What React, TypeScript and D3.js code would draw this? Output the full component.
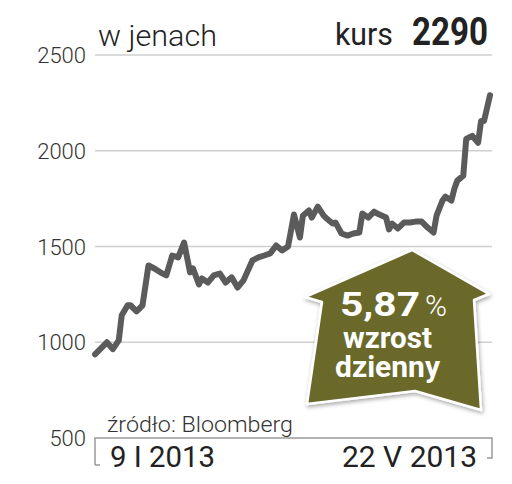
import React from "react";
import * as d3 from "d3";

const dates: string[] = [
  "2013-01-09","2013-01-12","2013-01-13","2013-01-15","2013-01-17","2013-01-18","2013-01-20","2013-01-21",
  "2013-01-23","2013-01-25","2013-01-27","2013-01-29","2013-01-31","2013-02-02","2013-02-04","2013-02-06",
  "2013-02-08","2013-02-10","2013-02-11","2013-02-13","2013-02-14","2013-02-16","2013-02-18","2013-02-20",
  "2013-02-22","2013-02-24","2013-02-26","2013-02-28","2013-03-03","2013-03-05","2013-03-07","2013-03-09",
  "2013-03-11","2013-03-13","2013-03-15","2013-03-17","2013-03-19","2013-03-20","2013-03-22","2013-03-23",
  "2013-03-25","2013-03-27","2013-03-28","2013-03-30","2013-03-31","2013-04-02","2013-04-04","2013-04-06",
  "2013-04-08","2013-04-09","2013-04-11","2013-04-13","2013-04-14","2013-04-17","2013-04-18","2013-04-19",
  "2013-04-21","2013-04-23","2013-04-25","2013-04-27","2013-04-29","2013-05-01","2013-05-03","2013-05-04",
  "2013-05-06","2013-05-07","2013-05-09","2013-05-10","2013-05-11","2013-05-13","2013-05-14","2013-05-16",
  "2013-05-18","2013-05-19","2013-05-20","2013-05-22",
];

const prices: number[] = [
  937, 984, 1000, 964, 1010, 1141, 1193, 1193,
  1161, 1193, 1401, 1385, 1365, 1349, 1453, 1443,
  1521, 1365, 1385, 1302, 1333, 1312, 1349, 1359,
  1312, 1339, 1286, 1323, 1427, 1443, 1453, 1464,
  1505, 1479, 1500, 1667, 1547, 1661, 1688, 1651,
  1708, 1661, 1646, 1620, 1625, 1568, 1557, 1568,
  1573, 1672, 1651, 1682, 1672, 1651, 1589, 1620,
  1594, 1625, 1625, 1630, 1630, 1599, 1573, 1661,
  1740, 1760, 1740, 1802, 1844, 1870, 2062, 2078,
  2042, 2156, 2156, 2290,
];

const yTicks: number[] = [500, 1000, 1500, 2000, 2500];
const xLabels: string[] = ["9 I 2013", "22 V 2013"];
const unitLabel = "w jenach";
const kursLabel = "kurs";
const kursValue = "2290";
const sourceLabel = "źródło: Bloomberg";
const badgeLines: string[] = ["5,87", "%", "wzrost", "dzienny"];

const W = 512;
const H = 484;

export default function App() {
  const parse = d3.timeParse("%Y-%m-%d");
  const data = dates.map((d, i) => ({ date: parse(d) as Date, value: prices[i] }));
  const x = d3
    .scaleTime()
    .domain([parse(dates[0]) as Date, parse(dates[dates.length - 1]) as Date])
    .range([95, 490]);
  const y = d3.scaleLinear().domain([500, 2500]).range([438, 55]);
  const line = d3
    .line<{ date: Date; value: number }>()
    .x((d) => x(d.date))
    .y((d) => y(d.value))
    .curve(d3.curveLinear);

  const gx0 = 95;
  const gx1 = 492;
  const font = "Roboto, 'Open Sans', sans-serif";
  const badge = "412,250 489,294 474,300 481,410 415,391 307,404 322,302 305,297";

  return (
    <svg
      width={W}
      height={H}
      style={{ position: "absolute", left: 0, top: 0, background: "#fff" }}
      fontFamily={font}
    >
      <defs>
        <filter id="sh" x="-20%" y="-20%" width="140%" height="140%">
          <feDropShadow dx="1" dy="2" stdDeviation="2" floodColor="#000" floodOpacity="0.35" />
        </filter>
      </defs>
      <rect width={W} height={H} fill="#fff" />
      {yTicks.slice(1).map((t) => (
        <line key={t} x1={gx0} x2={gx1} y1={y(t)} y2={y(t)} stroke="#cfcfcf" strokeWidth={1.5} />
      ))}
      <path
        d={`M${gx0},${y(500) + 27} V${y(500)} H${gx1} V${y(500) + 20} H${gx1 - 5}`}
        fill="none"
        stroke="#9a9a9a"
        strokeWidth={1.5}
      />
      <line x1={gx0} x2={gx0 + 5} y1={y(500) + 27} y2={y(500) + 27} stroke="#9a9a9a" strokeWidth={1.5} />
      {yTicks.map((t) => (
        <text key={t} x={86} y={y(t) + 8} textAnchor="end" fontSize={22} fontWeight={300} fill="#333">
          {t}
        </text>
      ))}
      <text x={98} y={46} fontSize={29} fontWeight={300} fill="#222" textLength={119} lengthAdjust="spacingAndGlyphs">
        {unitLabel}
      </text>
      <text x={335} y={45} fontSize={31} fontWeight={400} fill="#222" textLength={58} lengthAdjust="spacingAndGlyphs">
        {kursLabel}
      </text>
      <text x={412} y={45} fontSize={38} fontWeight={700} fill="#222" textLength={76} lengthAdjust="spacingAndGlyphs">
        {kursValue}
      </text>
      <path d={line(data) || ""} fill="none" stroke="#5b5b5b" strokeWidth={6} strokeLinejoin="round" strokeLinecap="round" />
      <text x={107} y={432} fontSize={22} fontWeight={300} fill="#333" textLength={186} lengthAdjust="spacingAndGlyphs">
        {sourceLabel}
      </text>
      <text x={110} y={467} fontSize={30} fontWeight={400} fill="#222" textLength={105} lengthAdjust="spacingAndGlyphs">
        {xLabels[0]}
      </text>
      <text x={477} y={467} fontSize={30} fontWeight={400} fill="#222" textAnchor="end" textLength={135} lengthAdjust="spacingAndGlyphs">
        {xLabels[1]}
      </text>
      <polygon points={badge} fill="#6a692c" stroke="#fff" strokeWidth={2.5} strokeLinejoin="round" filter="url(#sh)" />
      <text x={340} y={316} fontSize={33} fontWeight={700} fill="#fff" textLength={80} lengthAdjust="spacingAndGlyphs">
        {badgeLines[0]}
      </text>
      <text x={425} y={316} fontSize={29} fontWeight={300} fill="#fff" textLength={22} lengthAdjust="spacingAndGlyphs">
        {badgeLines[1]}
      </text>
      <text x={343} y={348} fontSize={29} fontWeight={700} fill="#fff" textLength={89} lengthAdjust="spacingAndGlyphs">
        {badgeLines[2]}
      </text>
      <text x={335} y={377} fontSize={29} fontWeight={700} fill="#fff" textLength={105} lengthAdjust="spacingAndGlyphs">
        {badgeLines[3]}
      </text>
    </svg>
  );
}
